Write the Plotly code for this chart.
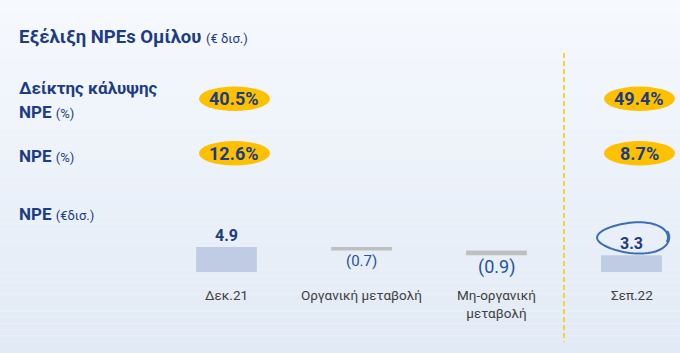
import plotly.graph_objects as go
import numpy as np

# ---- data ----
categories = ["Δεκ.21", "Οργανική μεταβολή", "Μη-οργανική<br>μεταβολή", "Σεπ.22"]
npe_values = [4.9, -0.7, -0.9, 3.3]
measures = ["absolute", "relative", "relative", "total"]
value_labels = ["4.9", "(0.7)", "(0.9)", "3.3"]
coverage_ratio = [40.5, 49.4]      # Δεκ.21, Σεπ.22
npe_ratio = [12.6, 8.7]            # Δεκ.21, Σεπ.22
ratio_positions = [0, 3]

W, H = 680, 353
NAVY = "#1C3C85"
FONT = "Roboto"

xs = list(range(len(categories)))
fig = go.Figure()

fig.add_trace(go.Waterfall(
    x=xs, y=npe_values, measure=measures, width=0.45,
    totals=dict(marker=dict(color="#BFCCE4")),
    increasing=dict(marker=dict(color="#BFCCE4")),
    decreasing=dict(marker=dict(color="#BFBFBF")),
    connector=dict(visible=False), hoverinfo="skip", showlegend=False,
))

def py(p):
    return 1 - p / H

# background gradient bands
top = np.array([0xF6, 0xF9, 0xFE]); bot = np.array([0xE2, 0xEA, 0xF5])
nb = 60
for i in range(nb):
    c = top + (bot - top) * (i + 0.5) / nb
    fig.add_shape(type="rect", xref="paper", yref="paper", x0=0, x1=1,
                  y0=1 - (i + 1) / nb, y1=1 - i / nb, layer="below",
                  line_width=0, fillcolor="rgb(%d,%d,%d)" % tuple(c.round()))

# value labels on the waterfall
cum = 0
for i, (v, m, lab) in enumerate(zip(npe_values, measures, value_labels)):
    if m == "absolute":
        start, end = 0, v
        cum = v
    elif m == "relative":
        start, end = cum, cum + v
        cum = cum + v
    else:
        start, end = 0, v
    if v >= 0:
        fig.add_annotation(x=i, y=max(start, end), yshift=12, yanchor="middle",
                           text="<b>%s</b>" % lab, showarrow=False,
                           font=dict(family=FONT, size=16, color=NAVY))
    else:
        fig.add_annotation(x=i, y=min(start, end), yshift=-12 if i == 2 else -10,
                           yanchor="middle", text=lab, showarrow=False,
                           font=dict(family=FONT, size=18 if i == 2 else 15, color="#23529F"))
    # category labels
    fig.add_annotation(x=i, y=py(294), yref="paper", yanchor="top", yshift=9,
                       text=categories[i], showarrow=False,
                       font=dict(family=FONT, size=13.5, color="#404040"))

# ratio badges
for pos, vals, yc in [(ratio_positions, coverage_ratio, 98.5), (ratio_positions, npe_ratio, 153)]:
    for p, v in zip(pos, vals):
        fig.add_shape(type="circle", xref="x", yref="paper", x0=p - 0.204, x1=p + 0.322,
                      y0=py(yc + 12.5), y1=py(yc - 12), fillcolor="#FFC000", line_width=0)
        fig.add_annotation(x=p + 0.059, y=py(yc), yref="paper", yanchor="middle",
                           text="<b>%.1f%%</b>" % v,
                           showarrow=False, font=dict(family=FONT, size=18, color=NAVY))

# dashed separator
fig.add_shape(type="line", xref="x", yref="paper", x0=2.5, x1=2.5, y0=py(53), y1=py(342),
              line=dict(color="#FFCC3A", width=2, dash="5px,3px"))

# hand-drawn ellipse around the last value
t = np.linspace(np.deg2rad(-15), np.deg2rad(380), 80)
cx, cy = 3.0 + 0.01, 237.5
rx = 0.26 * (1 + 0.04 * (t - t[0]) / (t[-1] - t[0]))
ry = 14.5 * (1 + 0.12 * (t - t[0]) / (t[-1] - t[0]))
pxs = cx + rx * np.cos(t)
pys = [py(cy - r * np.sin(a) - 1.5 * np.sin(2 * a)) for r, a in zip(ry, t)]
path = "M " + " L ".join("%.4f,%.4f" % (a, b) for a, b in zip(pxs, pys))
fig.add_shape(type="path", xref="x", yref="paper", path=path,
              line=dict(color="#3C6EB5", width=2))

# title and row labels
fig.add_annotation(x=17 / W, y=py(37), xref="paper", yref="paper", xanchor="left",
                   yanchor="middle",
                   text="<b>Εξέλιξη NPEs Ομίλου</b> <span style='font-size:13px'>(€ δισ.)</span>",
                   showarrow=False, font=dict(family=FONT, size=18.5, color=NAVY))
row_labels = [
    ("<b>Δείκτης κάλυψης</b>", 88),
    ("<b>NPE</b> <span style='font-size:13px'>(%)</span>", 112),
    ("<b>NPE</b> <span style='font-size:13px'>(%)</span>", 156),
    ("<b>NPE</b> <span style='font-size:13px'>(€δισ.)</span>", 214),
]
for txt, yy in row_labels:
    fig.add_annotation(x=17 / W, y=py(yy), xref="paper", yref="paper", xanchor="left",
                       yanchor="middle", text=txt, showarrow=False,
                       font=dict(family=FONT, size=17, color=NAVY))

px_per_unit = 135.0
x0_px = 226.5
y0_px = 272.0
y_scale = 5.1
fig.update_layout(
    width=W, height=H, margin=dict(l=0, r=0, t=0, b=0),
    paper_bgcolor="#F6F9FE", plot_bgcolor="rgba(0,0,0,0)",
    xaxis=dict(range=[-x0_px / px_per_unit, (W - x0_px) / px_per_unit], visible=False,
               fixedrange=True),
    yaxis=dict(range=[-(H - y0_px) / y_scale, y0_px / y_scale], visible=False, fixedrange=True),
    showlegend=False,
)
fig.write_html("out.html")
